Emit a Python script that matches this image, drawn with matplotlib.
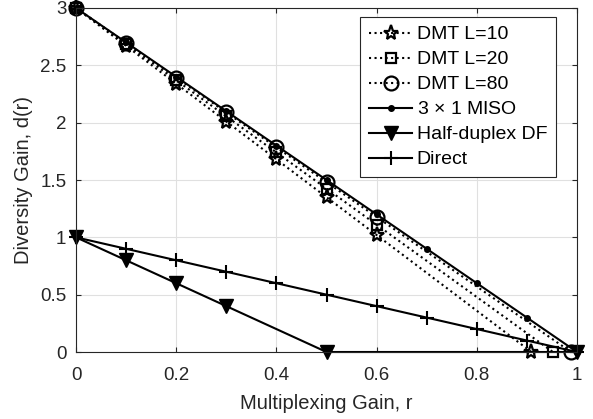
import matplotlib
matplotlib.use('Agg')
import matplotlib.pyplot as plt

plt.rcParams['font.family'] = ['Liberation Sans', 'DejaVu Sans']
plt.rcParams['mathtext.fontset'] = 'custom'
plt.rcParams['mathtext.rm'] = 'Liberation Sans'

# diversity-multiplexing tradeoff data
r_dmt10 = [0, 0.1, 0.2, 0.3, 0.4, 0.5, 0.6, 0.909]
d_dmt10 = [3, 2.67, 2.34, 2.01, 1.68, 1.35, 1.02, 0]
r_dmt20 = [0, 0.1, 0.2, 0.3, 0.4, 0.5, 0.6, 0.952]
d_dmt20 = [3, 2.685, 2.37, 2.055, 1.74, 1.425, 1.11, 0]
r_dmt80 = [0, 0.1, 0.2, 0.3, 0.4, 0.5, 0.6, 0.988]
d_dmt80 = [3, 2.696, 2.393, 2.089, 1.785, 1.481, 1.178, 0]
r_miso = [0, 0.1, 0.2, 0.3, 0.4, 0.5, 0.6, 0.7, 0.8, 0.9, 1.0]
d_miso = [3, 2.7, 2.4, 2.1, 1.8, 1.5, 1.2, 0.9, 0.6, 0.3, 0]
r_hd = [0, 0.1, 0.2, 0.3, 0.5, 1.0]
d_hd = [1, 0.8, 0.6, 0.4, 0, 0]
r_direct = [0, 0.1, 0.2, 0.3, 0.4, 0.5, 0.6, 0.7, 0.8, 0.9, 1.0]
d_direct = [1, 0.9, 0.8, 0.7, 0.6, 0.5, 0.4, 0.3, 0.2, 0.1, 0]

fig = plt.figure(figsize=(5.93, 4.19), dpi=100)
ax = fig.add_axes([76/593, 1-352/419, (577-76)/593, (352-8)/419])

kw = dict(color='k', lw=1.5, clip_on=False)
ax.plot(r_dmt10, d_dmt10, ':', marker='*', ms=11, mfc='none', mew=1.6, label='DMT L=10', **kw)
ax.plot(r_dmt20, d_dmt20, ':', marker='s', ms=7, mfc='none', mew=1.6, label='DMT L=20', **kw)
ax.plot(r_dmt80, d_dmt80, ':', marker='o', ms=10, mfc='none', mew=1.6, label='DMT L=80', **kw)
ax.plot(r_miso, d_miso, '-', marker='.', ms=8, label=r'3 $\times$ 1 MISO', **kw)
ax.plot(r_hd, d_hd, '-', marker='v', ms=10, label='Half-duplex DF', **kw)
ax.plot(r_direct, d_direct, '-', marker='+', ms=10, mew=1.5, label='Direct', **kw)

ax.set_xlim(0, 1)
ax.set_ylim(0, 3)
ax.set_xticks([0, 0.2, 0.4, 0.6, 0.8, 1])
ax.set_xticklabels(['0', '0.2', '0.4', '0.6', '0.8', '1'])
ax.set_yticks([0, 0.5, 1, 1.5, 2, 2.5, 3])
ax.set_yticklabels(['0', '0.5', '1', '1.5', '2', '2.5', '3'])
ax.grid(True, color='#e0e0e0', lw=0.8)
ax.set_axisbelow(True)
ax.tick_params(direction='in', top=True, right=True, labelsize=13.5, colors='#262626')
ax.tick_params(axis='x', pad=11)
ax.tick_params(axis='y', pad=7)
for s in ax.spines.values():
    s.set_color('#262626')
ax.set_xlabel('Multiplexing Gain, r', fontsize=14.5, color='#262626', labelpad=7)
ax.set_ylabel('Diversity Gain, d(r)', fontsize=14.5, color='#262626', labelpad=5)

leg = ax.legend(loc='upper right', bbox_to_anchor=(556/593, 1-17/419), bbox_transform=fig.transFigure,
                fontsize=14, fancybox=False, framealpha=1,
                edgecolor='#262626', handlelength=2.2, borderpad=0.45, labelspacing=0.38,
                handletextpad=0.25, borderaxespad=0)
leg.get_frame().set_linewidth(0.8)

plt.savefig('out.png', dpi=100)
